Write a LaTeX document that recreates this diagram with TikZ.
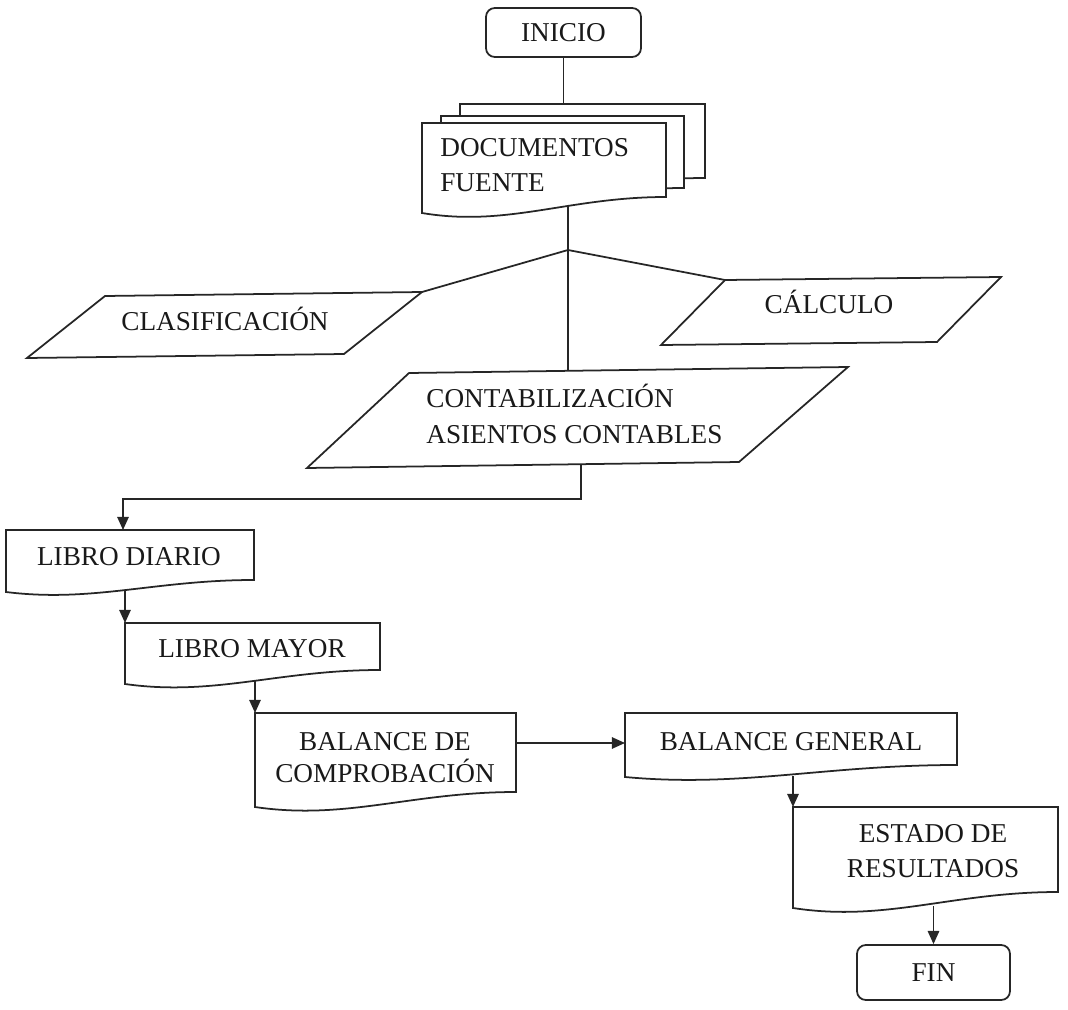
\documentclass[tikz,border=0pt]{standalone}
\usepackage{fontspec}
\setmainfont{Liberation Serif}
\usetikzlibrary{arrows.meta}
\tikzset{
  shp/.style={draw=black!85, line width=1pt, fill=white, line join=miter},
  conn/.style={draw=black!85, line width=1pt},
  arr/.style={conn, -{Triangle[length=7.5pt,width=6.5pt]}},
  lbl/.style={font=\fontsize{15.5}{20}\selectfont, inner sep=0pt, anchor=base, text=black!90},
  term/.style={shp, rounded corners=5pt, font=\fontsize{15.5}{20}\selectfont, inner sep=0pt, text=black!90},
}
% #1 x left, #2 x right, #3 top, #4 bottom-right, #5 bottom-left
\newcommand\docshape[5]{\path[shp] (#1,#3) -- (#2,#3) -- (#2,#4) .. controls ({#2-0.4*(#2-#1)},#4) and ({#1+0.35*(#2-#1)},{#5+0.9*(#5-#4)}) .. (#1,#5) -- cycle;}
\begin{document}
\begin{tikzpicture}[x=0.02cm,y=-0.02cm]
\useasboundingbox (0,0) rectangle (1068,1010);

% INICIO
\node[term, minimum width=3.1cm, minimum height=0.98cm] (inicio) at (563.5,32.5) {INICIO};

% DOCUMENTOS FUENTE (multi-document)
\docshape{460}{705}{104}{178}{192}
\docshape{441}{684}{116}{188}{202}
\docshape{422}{666}{123}{197}{213}
\node[lbl, anchor=base west] (docs1) at (440,157) {DOCUMENTOS};
\node[lbl, anchor=base west] (docs2) at (440,192) {FUENTE};
\coordinate (docTop) at (565,104);
\coordinate (docOut) at (568,206);

% CLASIFICACION
\path[shp] (105,296) -- (422,292) -- (344,354) -- (27,358) -- cycle;
\node[lbl] (clas) at (225,330) {CLASIFICACIÓN};
\coordinate (clasTR) at (422,292);

% CALCULO
\path[shp] (725,280) -- (1001,277) -- (937,342) -- (661,345) -- cycle;
\node[lbl] (calc) at (829,313) {CÁLCULO};
\coordinate (calcTL) at (725,280);

% CONTABILIZACION
\path[shp] (409,373) -- (848,367) -- (739,462) -- (307,468) -- cycle;
\node[lbl, anchor=base west] (cont1) at (426,407) {CONTABILIZACIÓN};
\node[lbl, anchor=base west] (cont2) at (426,443) {ASIENTOS CONTABLES};
\coordinate (contTop) at (568,371);
\coordinate (contBot) at (581,464);
\coordinate (bend) at (581,499);

% LIBRO DIARIO
\docshape{6}{254}{530}{580}{592}
\node[lbl] (diario) at (129,565) {LIBRO DIARIO};
\coordinate (diarioTop) at (123,530);
\coordinate (diarioBot) at (125,591);

% LIBRO MAYOR
\docshape{125}{380}{623}{670}{684}
\node[lbl] (mayor) at (252,657) {LIBRO MAYOR};
\coordinate (mayorTop) at (125,623);
\coordinate (mayorBot) at (255,681);

% BALANCE DE COMPROBACION
\docshape{255}{516}{713}{792}{807}
\node[lbl] (bc1) at (385,750) {BALANCE DE};
\node[lbl] (bc2) at (385,782) {COMPROBACIÓN};
\coordinate (bcTop) at (255,713);
\coordinate (bcR) at (516,743);

% BALANCE GENERAL
\docshape{625}{957}{713}{765}{777}
\node[lbl] (bg) at (791,750) {BALANCE GENERAL};
\coordinate (bgL) at (625,743);
\coordinate (bgBot) at (793,776);

% ESTADO DE RESULTADOS
\docshape{793}{1058}{807}{892}{908}
\node[lbl] (er1) at (933,842) {ESTADO DE};
\node[lbl] (er2) at (933,877) {RESULTADOS};
\coordinate (erTop) at (793,807);
\coordinate (erBot) at (933.5,906);

% FIN
\node[term, minimum width=3.06cm, minimum height=1.1cm] (fin) at (933.5,972.5) {FIN};

% connectors
\draw[conn] (inicio.south) -- (inicio.south |- docTop);
\draw[conn] (docOut) -- (contTop);
\coordinate (split) at (568,250);
\draw[conn] (split) -- (clasTR);
\draw[conn] (split) -- (calcTL);
\draw[arr] (contBot) -- (bend) -| (diarioTop);
\draw[arr] (diarioBot) -- (diarioBot |- mayorTop);
\draw[arr] (mayorBot) -- (mayorBot |- bcTop);
\draw[arr] (bcR) -- (bgL);
\draw[arr] (bgBot) -- (bgBot |- erTop);
\draw[arr] (erBot) -- (fin.north);
\end{tikzpicture}
\end{document}
